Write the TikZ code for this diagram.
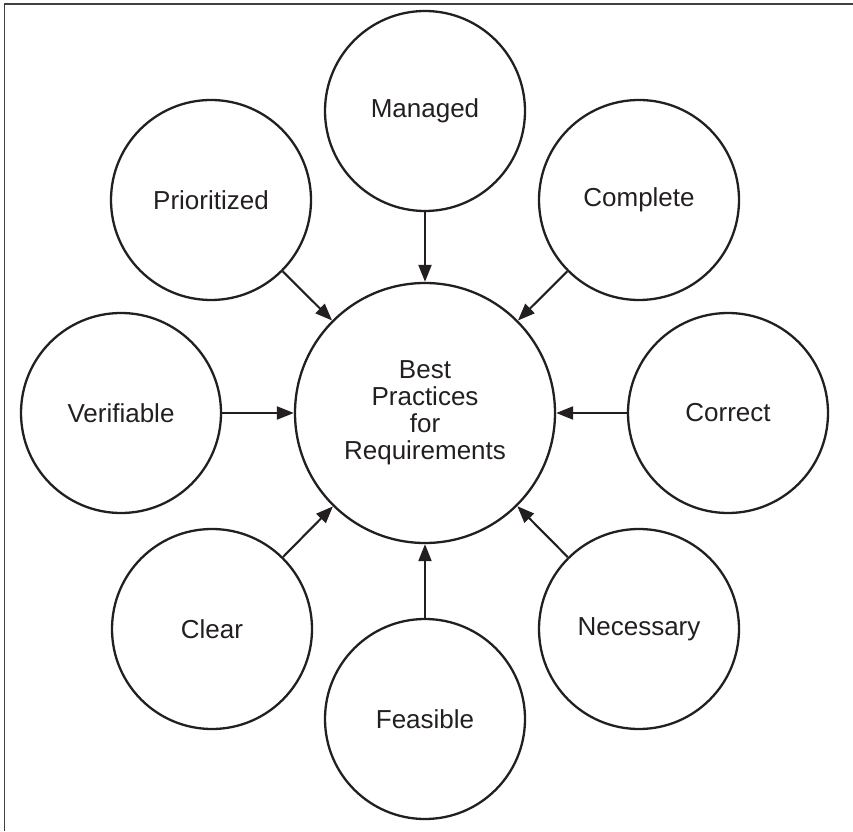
\documentclass[tikz,border=0pt]{standalone}
\usepackage{fontspec}
\setmainfont{Liberation Sans}
\usetikzlibrary{arrows.meta}
\definecolor{ink}{HTML}{231F20}
\begin{document}
\begin{tikzpicture}[x=1pt,y=1pt,
  bubble/.style={circle,draw=ink,line width=2.3pt,minimum size=200pt,inner sep=0pt,
    font=\fontsize{26}{27}\selectfont,text=ink},
  hub/.style={bubble,minimum size=260pt,align=center},
  arr/.style={draw=ink,line width=2.1pt,-{Triangle[length=17pt,width=13pt]}}]
\useasboundingbox (0,0) rectangle (853,831);
\draw[line width=1.3pt,black!75] (4.3,0) -- (4.3,827) -- (853,827);
\node[hub] (c) at (425,418) {Best\\Practices\\for\\Requirements};
\node[bubble] (man) at (425,720) {Managed};
\node[bubble] (pri) at (211,631) {Prioritized};
\node[bubble] (com) at (639,631) {Complete};
\node[bubble] (ver) at (121,418) {Verifiable};
\node[bubble] (cor) at (728,418) {Correct};
\node[bubble] (cle) at (212,202) {Clear};
\node[bubble] (nec) at (639,202) {Necessary};
\node[bubble] (fea) at (425,112) {Feasible};
\foreach \n in {man,pri,com,ver,cor,cle,nec,fea}
  \draw[arr] (\n) -- (c);
\end{tikzpicture}
\end{document}
